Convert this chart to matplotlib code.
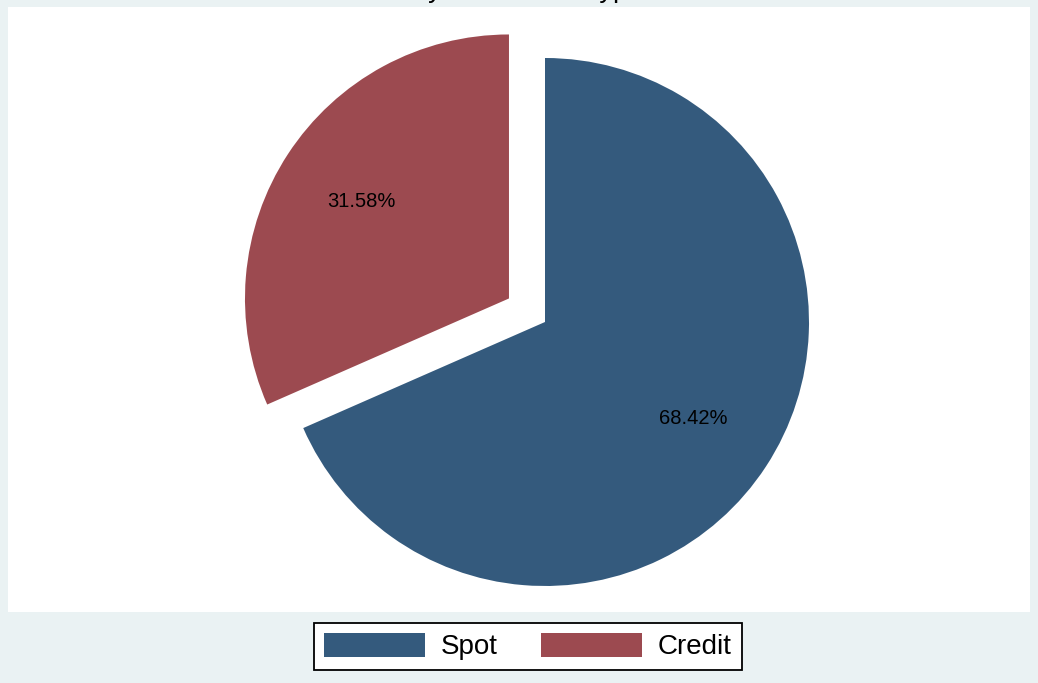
import matplotlib
matplotlib.use('Agg')
import matplotlib.pyplot as plt

# data
labels = ['Spot', 'Credit']
shares = [68.42, 31.58]
colors = ['#345A7D', '#9C4A50']
title = 'Payment Mode Type'

plt.rcParams['font.family'] = ['Liberation Sans', 'DejaVu Sans']

fig = plt.figure(figsize=(10.38, 6.83), dpi=100)
fig.patch.set_facecolor('#EAF2F3')

W, H = 1038.0, 683.0
# white plot region, pixel box
x0, x1, ytop, ybot = 8, 1030, 7, 612
ax = fig.add_axes([x0 / W, 1 - ybot / H, (x1 - x0) / W, (ybot - ytop) / H])

wedges, texts, autotexts = ax.pie(
    shares, colors=colors, startangle=90, counterclock=False,
    explode=[0, 0.163], autopct='%.2f%%', pctdistance=0.67,
    wedgeprops=dict(linewidth=0), textprops=dict(fontsize=14.5, color='black'))

# pie centre at (545, 322) px, radius 264 px
cx, cy, r = 545, 322, 264.0
ax.set_aspect('auto')
ax.set_xlim((x0 - cx) / r, (x1 - cx) / r)
ax.set_ylim(-(ybot - cy) / r, (cy - ytop) / r)
ax.set_frame_on(True)
ax.set_facecolor('white')
for s in ax.spines.values():
    s.set_visible(False)
ax.set_xticks([])
ax.set_yticks([])

fig.text(0.5, 1 + 3 / H, title, ha='center', va='baseline', fontsize=19.5)

leg = fig.legend(wedges, labels, ncol=2, loc='center',
                 bbox_to_anchor=(528 / W, 1 - 646.5 / H),
                 fontsize=20, handlelength=3.63, handleheight=1.0,
                 handletextpad=0.58, columnspacing=1.55, borderpad=0.35,
                 fancybox=False, frameon=True, borderaxespad=0)
leg.get_frame().set_edgecolor('black')
leg.get_frame().set_linewidth(1.3)
leg.get_frame().set_facecolor('white')
leg.get_frame().set_alpha(1)

fig.savefig('out.png', dpi=100, facecolor=fig.get_facecolor())
